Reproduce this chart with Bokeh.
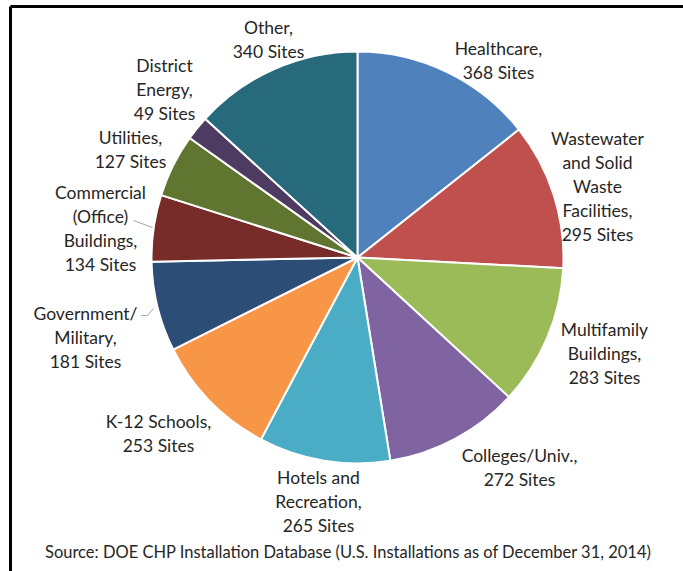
import math
from bokeh.plotting import figure
from bokeh.models import Range1d, ColumnDataSource
from bokeh.core.properties import value
from bokeh.embed import file_html
from bokeh.resources import INLINE

# ---- data ----
categories = ["Healthcare", "Wastewater and Solid Waste Facilities", "Multifamily Buildings",
              "Colleges/Univ.", "Hotels and Recreation", "K-12 Schools", "Government/Military",
              "Commercial (Office) Buildings", "Utilities", "District Energy", "Other"]
sites = [368, 295, 283, 272, 265, 253, 181, 134, 127, 49, 340]
label_lines = [
    ["Healthcare,", "368 Sites"],
    ["Wastewater", "and Solid", "Waste", "Facilities,", "295 Sites"],
    ["Multifamily", "Buildings,", "283 Sites"],
    ["Colleges/Univ.,", "272 Sites"],
    ["Hotels and", "Recreation,", "265 Sites"],
    ["K-12 Schools,", "253 Sites"],
    ["Government/", "Military,", "181 Sites"],
    ["Commercial", "(Office)", "Buildings,", "134 Sites"],
    ["Utilities,", "127 Sites"],
    ["District", "Energy,", "49 Sites"],
    ["Other,", "340 Sites"],
]
colors = ["#4F81BD", "#C0504D", "#9BBB59", "#8064A2", "#4BACC6", "#F79646",
          "#2C4D75", "#772C2A", "#5F7530", "#4D3B62", "#276A7C"]
source_note = "Source: DOE CHP Installation Database (U.S. Installations as of December 31, 2014)"

# ---- layout (screen pixels) ----
W, H = 683, 571
def Y(ys):
    return H - ys

cx, cy, R = 357, Y(257), 206
label_pos = [(498, 48), (597, 138), (604, 329), (519, 455), (318, 477), (158, 421),
             (85, 313), (100, 192), (130, 137), (164, 65), (268, 27)]
line_gap = 24
FONT = "Lato"
FS = "17.5px"

p = figure(width=W, height=H, output_backend="svg", toolbar_location=None,
           x_range=Range1d(0, W), y_range=Range1d(0, H),
           min_border=0, outline_line_color=None)
p.axis.visible = False
p.grid.visible = False
p.background_fill_color = "white"
p.border_fill_color = "white"

total = sum(sites)
starts, ends = [], []
cum = 0
for s in sites:
    starts.append(math.pi / 2 - 2 * math.pi * cum / total)
    cum += s
    ends.append(math.pi / 2 - 2 * math.pi * cum / total)

src = ColumnDataSource(dict(x=[cx] * len(sites), y=[cy] * len(sites), start=starts, end=ends,
                            color=colors, cat=categories, val=sites))
p.wedge(x="x", y="y", radius=R, start_angle="start", end_angle="end", direction="clock",
        fill_color="color", line_color="white", line_width=2, source=src)

# labels
tx, ty, tt = [], [], []
for (lx, ly), lines in zip(label_pos, label_lines):
    for k, t in enumerate(lines):
        tx.append(lx)
        ty.append(Y(ly + k * line_gap))
        tt.append(t)
p.text(x=tx, y=ty, text=tt, text_align="center", text_baseline="middle",
       text_font=value(FONT), text_font_size=FS, text_color="#262626")

# leader lines
p.line(x=[133, 152], y=[Y(220), Y(227)], line_color="#A6A6A6", line_width=1)
p.line(x=[141, 147, 153], y=[Y(315), Y(315), Y(308)], line_color="#A6A6A6", line_width=1)

# source note
p.text(x=[348], y=[Y(551)], text=[source_note], text_align="center", text_baseline="middle",
       text_font=value(FONT), text_font_size="16.5px", text_color="#262626")

# frame lines
p.line(x=[10, W], y=[Y(6), Y(6)], line_color="black", line_width=3)
p.line(x=[10, 10], y=[Y(6), 0], line_color="black", line_width=3)

open("out.html", "w").write(file_html(p, INLINE))
